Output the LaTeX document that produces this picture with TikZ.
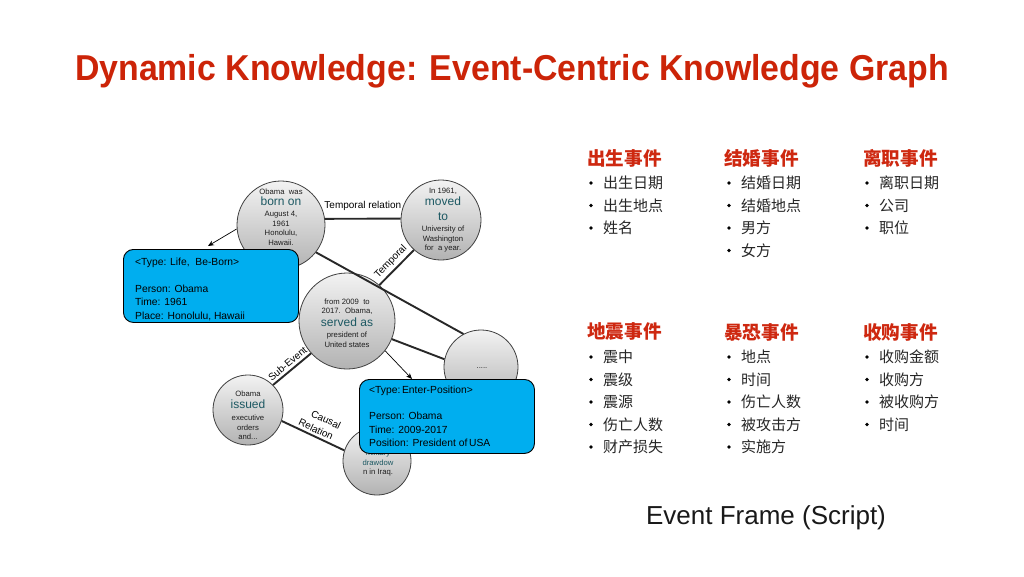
\documentclass[tikz,border=0pt]{standalone}
\usepackage{fontspec}
\setmainfont{Liberation Sans}
\newfontfamily\cjk{Noto Sans CJK SC}
\usetikzlibrary{arrows.meta}
\definecolor{titlered}{RGB}{204,36,8}
\definecolor{hdrred}{RGB}{206,40,16}
\definecolor{teal}{RGB}{28,88,98}
\definecolor{boxcyan}{RGB}{0,174,239}
\definecolor{edgegray}{RGB}{40,40,40}
\definecolor{txtgray}{RGB}{30,30,30}
\tikzset{
  evc/.style={circle, draw=black!75, line width=0.8pt, inner sep=0pt,
    top color=black!5, bottom color=black!30},
  ctext/.style={align=center, inner sep=0pt, text=txtgray,
    font=\fontsize{7.7}{9.6}\selectfont},
  frame/.style={draw=black, line width=0.9pt, fill=boxcyan, rounded corners=10pt,
    anchor=north west, inner sep=0pt},
  btext/.style={anchor=north west, align=left, inner sep=0pt,
    font=\fontsize{10.3}{13.4}\selectfont},
  edge/.style={draw=edgegray, line width=1.9pt},
  ptr/.style={draw=black, line width=0.7pt, -{Stealth[length=6pt,width=5pt]}},
  elabel/.style={font=\fontsize{10}{12}\selectfont, inner sep=1.5pt},
  hdr/.style={anchor=west, inner sep=0pt, text=hdrred, font=\fontsize{18.6}{20}\selectfont\cjk\bfseries},
  item/.style={anchor=west, inner sep=0pt, text=black!85, font=\fontsize{15}{18}\selectfont\cjk},
  bul/.style={circle, fill=black, inner sep=0pt, minimum size=3.6pt},
}
\newcommand{\hl}[1]{{\color{teal}\fontsize{12}{9.6}\selectfont #1}}
\begin{document}
\begin{tikzpicture}[x=1pt,y=-1pt]
\useasboundingbox[fill=white] (0,0) rectangle (1024,576);

% title
\node[text=titlered, font=\fontsize{36}{40}\selectfont\bfseries, inner sep=0pt, xscale=0.94] (title) at (512,71)
  {Dynamic Knowledge: Event-Centric Knowledge Graph};

% circles
\node[evc, minimum size=88pt] (A) at (281,225) {};
\node[evc, minimum size=80pt] (B) at (441,220) {};
\node[evc, minimum size=96pt] (C) at (347,321) {};
\node[evc, minimum size=74pt] (D) at (481,367) {};
\node[evc, minimum size=70pt] (E) at (248,410) {};
\node[evc, minimum size=68pt] (F) at (377,461) {};

% connectors
\draw[edge] (A.8) -- (B.178) node[midway, above=6pt, elabel] (lt) {Temporal relation};
\draw[edge] (A.-38) -- (D.118);
\draw[edge] (B.228) -- (C.48) node[midway, sloped, above=1pt, elabel] (lt2) {Temporal};
\draw[edge] (C.-22) -- (D.168);
\draw[edge] (C.222) -- (E.45) node[midway, sloped, above=1pt, elabel] (ls) {Sub-Event};
\draw[edge] (E.-18) -- (F.162) node[midway, sloped, above=1pt, elabel, align=center, font=\fontsize{10}{13}\selectfont] (lc) {\hspace*{10pt}Causal\\Relation};

% circle texts
\node[ctext] (At) at (281,217) {Obama\ \ was\\[1.5pt]\hl{born on}\\[1.5pt]August 4,\\1961\\Honolulu,\\Hawaii.};
\node[ctext] (Bt) at (443,220) {In 1961,\\[2pt]\hl{moved}\\[5pt]\hl{to}\\[1.5pt]University of\\Washington\\for\ \ a year.};
\node[ctext] (Ct) at (347,323) {from 2009\ \ to\\2017.\ \ Obama,\\[2pt]\hl{served as}\\[1.5pt]president of\\United states};
\node[ctext] (Dt) at (482,368) {.....};
\node[ctext] (Et) at (248,415.5) {Obama\\[2pt]\hl{issued}\\[2.5pt]executive\\orders\\and...};
\node[ctext] (Ft) at (378,463) {\color{teal}military\\\color{teal}drawdow\\n in Iraq.};

% pointers
\coordinate (p1) at (208,246);
\coordinate (p2) at (412,379);
\draw[ptr] (A.185) -- (p1);
\draw[ptr] (C.-38) -- (p2);

% frames
\node[frame, minimum width=175pt, minimum height=73pt] (f1) at (123,249) {};
\node[btext] (f1t) at (135,258) {<Type: Life,\ \ Be-Born>\\[13.4pt]Person: Obama\\Time: 1961\\Place: Honolulu, Hawaii};
\node[frame, minimum width=175pt, minimum height=74pt] (f2) at (359,379) {};
\node[btext] (f2t) at (369,385.5) {<Type:\,Enter-Position>\\[13.4pt]Person: Obama\\Time: 2009-2017\\Position: President of\,USA};

% event types
\node[hdr] (h1) at (587,158) {出生事件};
\node[hdr] (h2) at (724,158) {结婚事件};
\node[hdr] (h3) at (863,158) {离职事件};
\node[hdr] (h4) at (587,332) {地震事件};
\node[hdr] (h5) at (724,332) {暴恐事件};
\node[hdr] (h6) at (863,332) {收购事件};

\foreach \x/\y/\t in {
  588/183/出生日期, 588/205.5/出生地点, 588/228/姓名,
  726/183/结婚日期, 726/205.5/结婚地点, 726/228/男方, 726/250.5/女方,
  864/183/离职日期, 864/205.5/公司, 864/228/职位,
  588/357/震中, 588/379.5/震级, 588/402/震源, 588/424.5/伤亡人数, 588/447/财产损失,
  726/357/地点, 726/379.5/时间, 726/402/伤亡人数, 726/424.5/被攻击方, 726/447/实施方,
  864/357/收购金额, 864/379.5/收购方, 864/402/被收购方, 864/424.5/时间}
{
  \node[bul] at (\x+3,\y) {};
  \node[item] at (\x+15,\y) {\t};
}

\node[font=\fontsize{26}{30}\selectfont, text=black!90, inner sep=0pt] (ef) at (766,518) {Event Frame (Script)};
\end{tikzpicture}
\end{document}
